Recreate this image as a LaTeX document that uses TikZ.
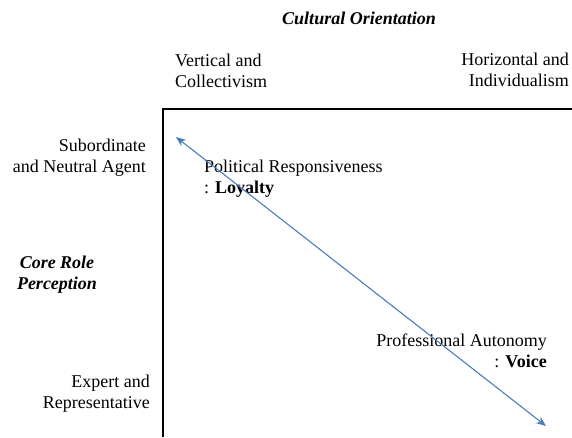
\documentclass[tikz,border=0pt]{standalone}
\usepackage{fontspec}
\setmainfont{Liberation Serif}
\usetikzlibrary{arrows.meta}
\definecolor{arrowblue}{HTML}{4A7EBB}
\begin{document}
\begin{tikzpicture}[x=1pt,y=-1pt,
  lbl/.style={inner sep=0pt,font=\fontsize{18}{21}\selectfont},
  ttl/.style={inner sep=0pt,font=\fontsize{18}{21}\selectfont\bfseries\itshape},
  axis/.style={line width=1.4pt,black},
  diag/.style={line width=1.1pt,arrowblue,{Stealth[length=10pt,width=8pt]}-{Stealth[length=10pt,width=8pt]}}]
\useasboundingbox (0,0) rectangle (572,437);
\node[ttl] (co) at (359,18) {Cultural Orientation};
\node[lbl,anchor=west,align=left] (vc) at (175,71) {Vertical and\\Collectivism};
\node[lbl,anchor=east,align=right] (hi) at (569,70) {Horizontal and\\Individualism};
\node[lbl,anchor=east,align=right] (sn) at (146,158) {Subordinate\\and Neutral Agent};
\node[ttl,align=center] (cr) at (57,275) {Core Role\\Perception};
\node[lbl,anchor=east,align=right] (er) at (150,394) {Expert and\\Representative};
\node[lbl,anchor=west,align=left] (pr) at (204,179) {Political Responsiveness\\: \textbf{Loyalty}};
\node[lbl,anchor=east,align=right] (pa) at (547,351) {Professional Autonomy\\: \textbf{Voice}};
\coordinate (c0) at (163,109);
\coordinate (cr1) at (572,109);
\coordinate (cb) at (163,437);
\draw[axis] (cb) -- (c0) -- (cr1);
\coordinate (a1) at (176,137);
\coordinate (a2) at (546,426);
\draw[diag] (a1) -- (a2);
\end{tikzpicture}
\end{document}
